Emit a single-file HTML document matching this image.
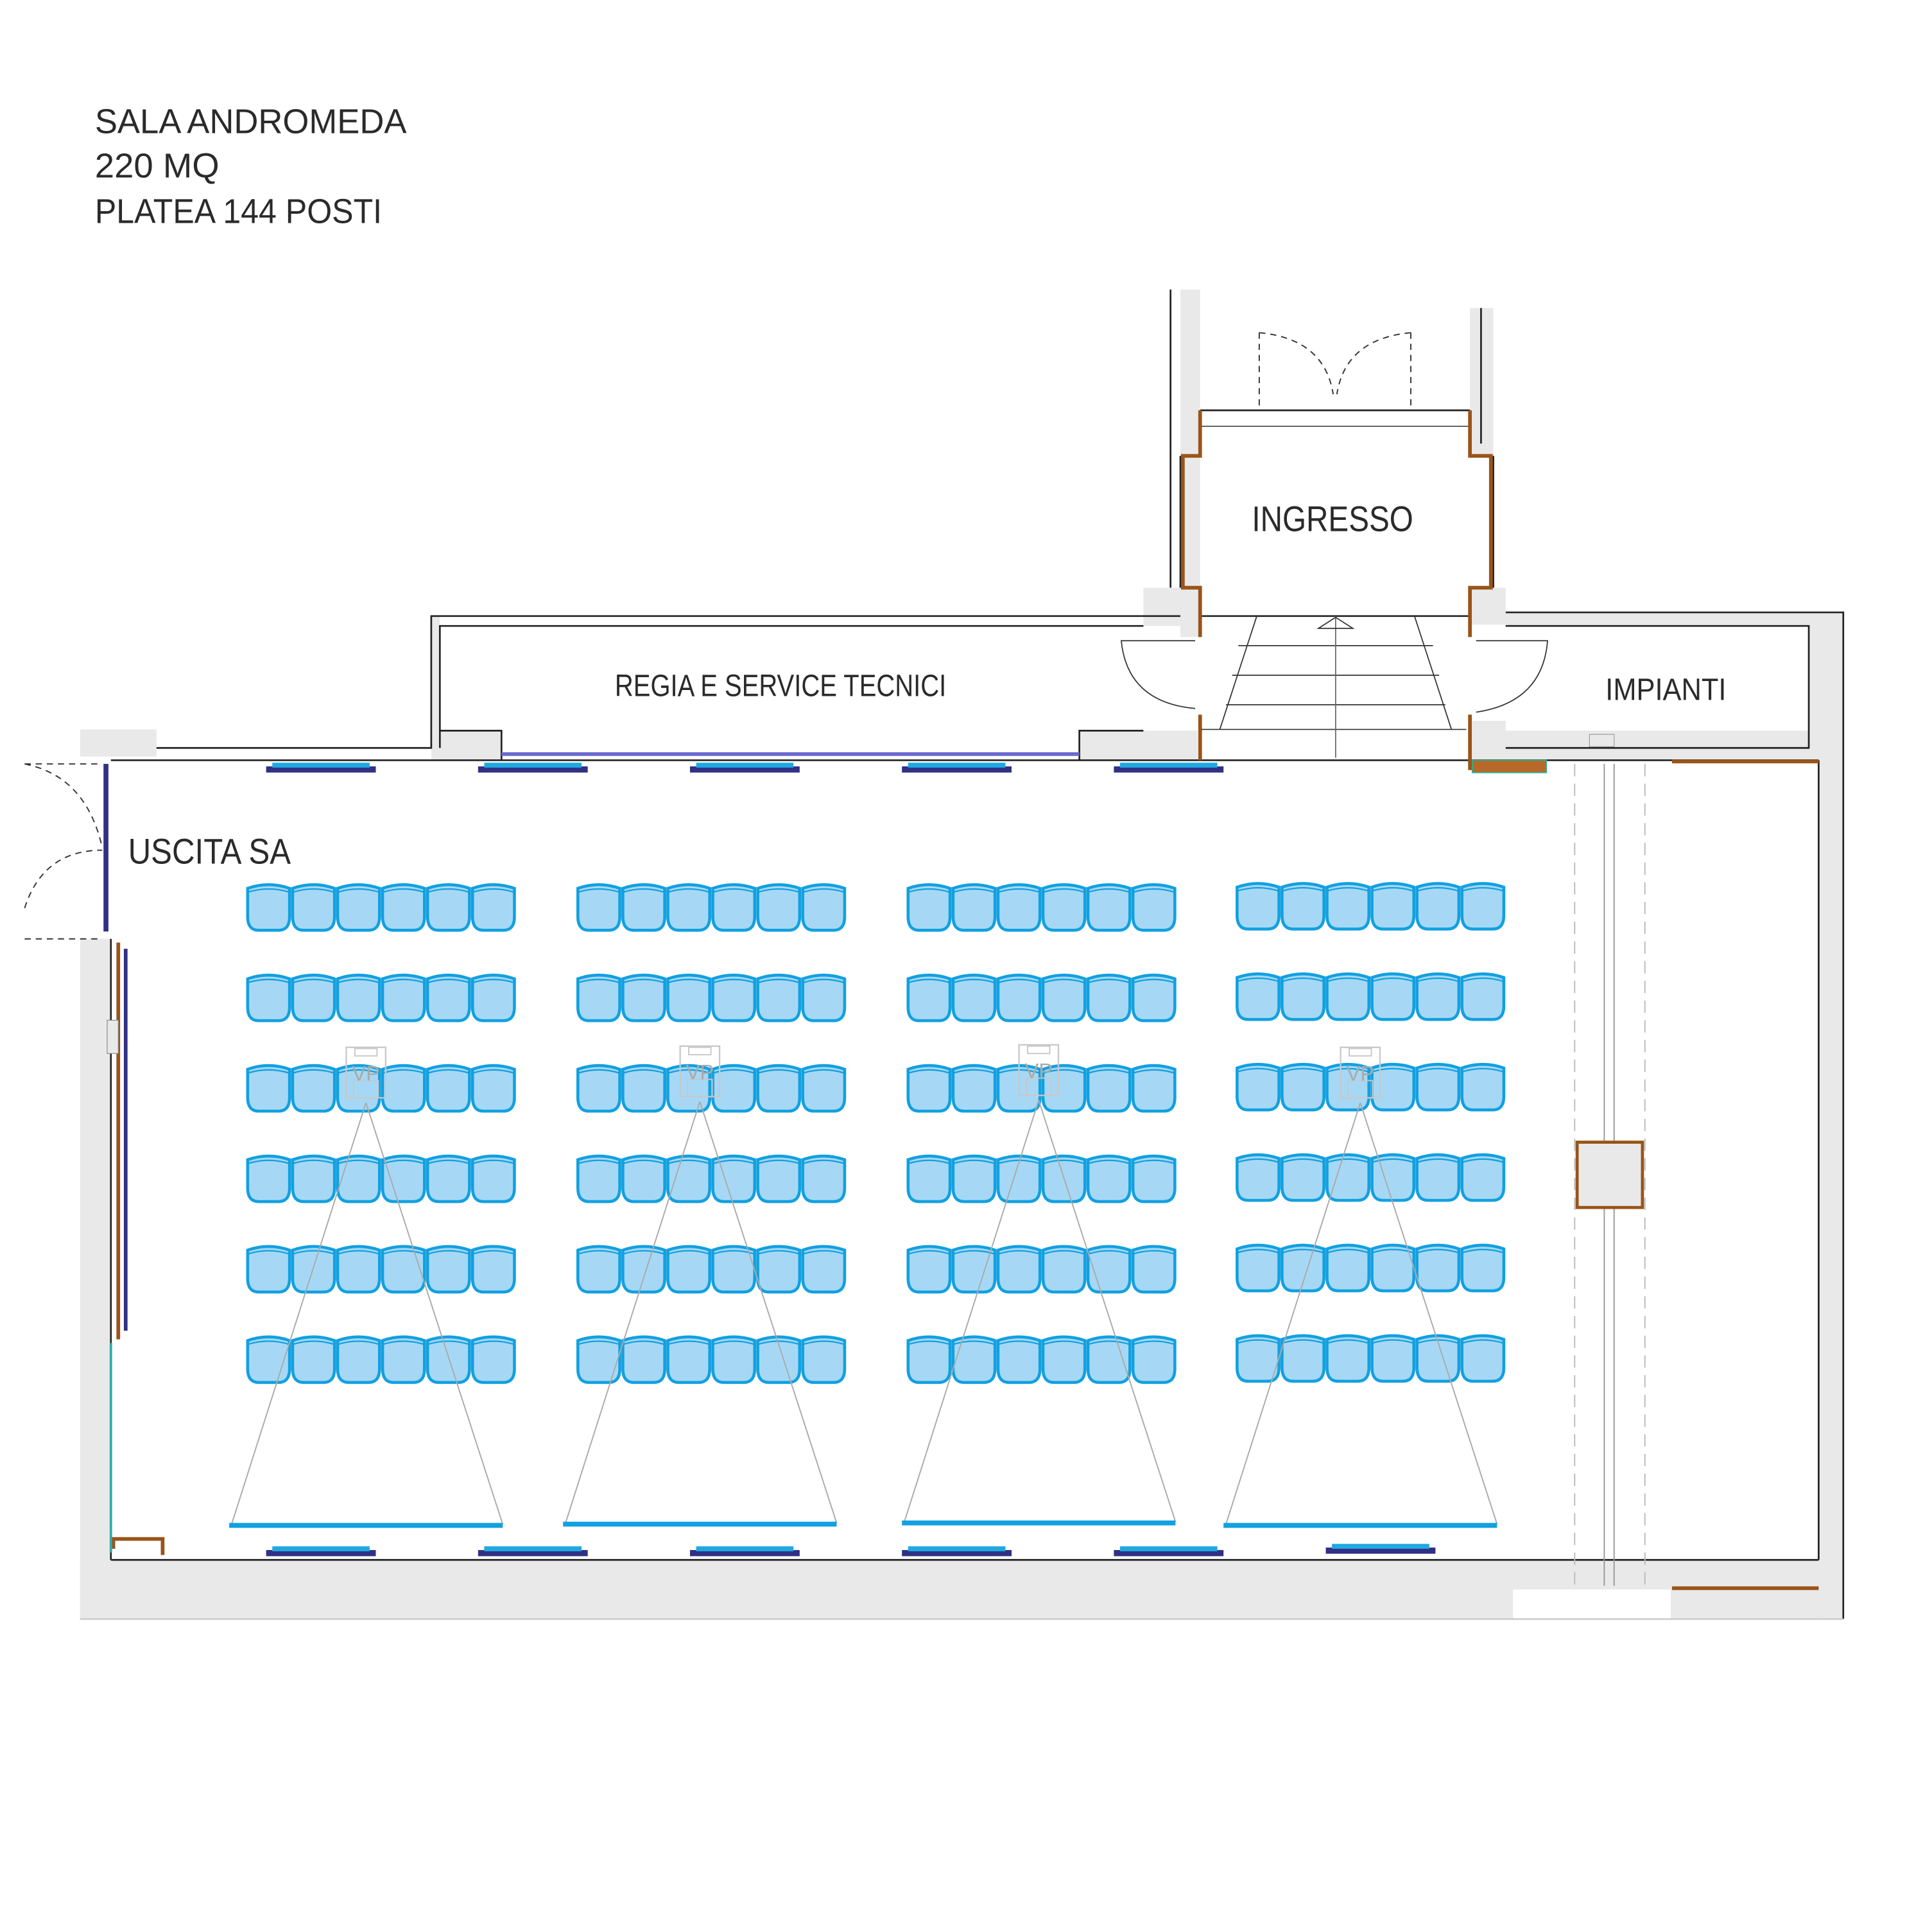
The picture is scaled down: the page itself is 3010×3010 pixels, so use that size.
<!DOCTYPE html>
<html><head><meta charset="utf-8"><style>
html,body{margin:0;padding:0;background:#fff}
svg{display:block}
text{font-family:"Liberation Sans",sans-serif;fill:#2a2a2a}
</style></head><body>
<svg width="3010" height="3010" viewBox="0 0 1568 1568" xmlns="http://www.w3.org/2000/svg">
<defs>
<g id="seat">
<path d="M1,5 Q18,-1 35,5 L35,28 Q35,39 26,39 L10,39 Q1,39 1,28 Z" fill="#a6d8f5" stroke="#12a0e0" stroke-width="2.4"/>
<path d="M1.5,8 Q18,3 34.5,8" fill="none" stroke="#12a0e0" stroke-width="1.2"/>
</g>
<g id="row">
<use href="#seat" x="0"/><use href="#seat" x="36.5"/><use href="#seat" x="73"/>
<use href="#seat" x="109.5"/><use href="#seat" x="146"/><use href="#seat" x="182.5"/>
</g>
<g id="block">
<use href="#row" y="0"/><use href="#row" y="73.4"/><use href="#row" y="146.8"/>
<use href="#row" y="220.2"/><use href="#row" y="293.6"/><use href="#row" y="367"/>
</g>
<g id="proj">
<line x1="0" y1="45" x2="-109" y2="387" stroke="#aaa" stroke-width="1"/>
<line x1="0" y1="45" x2="111" y2="387" stroke="#aaa" stroke-width="1"/>
<rect x="-16" y="0" width="32" height="41" fill="none" stroke="#c8c8c8" stroke-width="1.2"/>
<rect x="-9" y="1" width="18" height="6" fill="none" stroke="#c8c8c8" stroke-width="1"/>
<rect x="-10" y="27" width="20" height="14" fill="none" stroke="#c8c8c8" stroke-width="1"/>
<text x="0" y="27" font-size="17" text-anchor="middle" style="fill:#aaa">VP</text>
<line x1="-111" y1="388" x2="111" y2="388" stroke="#12a0e0" stroke-width="4"/>
</g>
<g id="win">
<rect x="0" y="3" width="89" height="5" fill="#303085"/>
<rect x="5" y="0" width="79" height="4" fill="#20a8e0"/>
</g>
</defs>

<!-- title -->
<text x="77" y="108" font-size="28" textLength="253" lengthAdjust="spacingAndGlyphs">SALA ANDROMEDA</text>
<text x="77" y="144" font-size="28" textLength="101" lengthAdjust="spacingAndGlyphs">220 MQ</text>
<text x="77" y="181" font-size="28" textLength="233" lengthAdjust="spacingAndGlyphs">PLATEA 144 POSTI</text>

<!-- main gray walls -->
<g fill="#e9e9e9">
<rect x="65" y="762" width="25" height="552"/>
<rect x="65" y="1266" width="1431" height="48"/>
<rect x="1476" y="497" width="20" height="817"/>
<rect x="1222" y="497" width="274" height="11"/>
<rect x="1468" y="508" width="8" height="109"/>
<rect x="1212" y="593" width="264" height="24"/>
<rect x="65" y="592" width="62" height="22"/>
<rect x="350" y="593" width="57" height="24"/>
<rect x="876" y="593" width="96" height="24"/>
<rect x="928" y="477" width="30" height="31"/>
<rect x="958" y="235" width="16" height="282"/>
<rect x="1193" y="250" width="19" height="120"/>
<rect x="1193" y="477" width="29" height="30"/>
<rect x="1193" y="585" width="29" height="32"/>
<rect x="350" y="500" width="7" height="107"/>
</g>
<rect x="1228" y="1290" width="128" height="24" fill="#fff"/>
<rect x="1290" y="596" width="20" height="10" fill="#e9e9e9" stroke="#999" stroke-width="0.6"/>

<!-- outlines -->
<g fill="none" stroke="#222" stroke-width="1.4">
<line x1="90" y1="617" x2="1476" y2="617"/>
<line x1="90" y1="1266" x2="1476" y2="1266"/>
<line x1="1476" y1="617" x2="1476" y2="1266"/>
<line x1="90" y1="762" x2="90" y2="1266"/>
<polyline points="127,607 350,607 350,500 958,500"/>
<polyline points="357,607 357,508 928,508"/>
<polyline points="407,617 407,593 357,593"/>
<polyline points="876,617 876,593 928,593"/>
<line x1="950" y1="235" x2="950" y2="477"/>
<line x1="958" y1="370" x2="958" y2="477"/>
<line x1="1212" y1="370" x2="1212" y2="477"/>
<line x1="1202" y1="250" x2="1202" y2="360"/>
<polyline points="1222,497 1496,497 1496,1314"/>
<polyline points="1222,508 1468,508 1468,607 1222,607"/>
<line x1="974" y1="500" x2="1193" y2="500"/>
<line x1="974" y1="333" x2="1193" y2="333"/>
<line x1="974" y1="346" x2="1193" y2="346" stroke-width="0.7"/>
<line x1="65" y1="1314" x2="1496" y2="1314" stroke="#ccc"/>
</g>
<!-- brown wall edges -->
<g fill="none" stroke="#9a5418" stroke-width="3">
<polyline points="974,333 974,370 960,370 960,477 974,477 974,517"/>
<polyline points="1193,333 1193,370 1210,370 1210,477 1193,477 1193,517"/>
<line x1="974" y1="580" x2="974" y2="617"/>
<line x1="1193" y1="580" x2="1193" y2="625"/>
<line x1="96" y1="765" x2="96" y2="1087"/>
<line x1="1357" y1="618" x2="1476" y2="618"/>
<line x1="1357" y1="1289" x2="1476" y2="1289"/>
<polyline points="92,1257 92,1249 132,1249 132,1262"/>
</g>
<line x1="102" y1="770" x2="102" y2="1080" stroke="#303085" stroke-width="3"/>
<rect x="87" y="828" width="9" height="27" fill="#e9e9e9" stroke="#888" stroke-width="0.6"/>

<!-- ingresso door dashed -->
<g fill="none" stroke="#333" stroke-width="1" stroke-dasharray="5,4">
<line x1="1022" y1="270" x2="1022" y2="333"/>
<line x1="1145" y1="270" x2="1145" y2="333"/>
<path d="M1022,270 Q1075,275 1082,320"/>
<path d="M1145,270 Q1092,275 1085,320"/>
</g>

<!-- stairs -->
<g fill="none" stroke="#333" stroke-width="0.9">
<line x1="1020" y1="500" x2="990" y2="592"/>
<line x1="1148" y1="500" x2="1178" y2="592"/>
<line x1="1005" y1="524" x2="1163" y2="524"/>
<line x1="1000" y1="548" x2="1168" y2="548"/>
<line x1="995" y1="572" x2="1173" y2="572"/>
<line x1="975" y1="592" x2="1190" y2="592"/>
<line x1="1084" y1="500" x2="1084" y2="615" stroke="#666"/>
<path d="M1070,510 L1084,501 L1098,510 Z"/>
<path d="M970,520 L910,520 Q915,570 970,575"/>
<path d="M1198,520 L1256,520 Q1252,570 1198,578"/>
</g>

<!-- exit doors -->
<g fill="none" stroke="#333" stroke-width="1" stroke-dasharray="5,4">
<line x1="20" y1="620" x2="83" y2="620"/>
<line x1="20" y1="762" x2="83" y2="762"/>
<path d="M20,620 Q70,630 83,688"/>
<path d="M20,737 Q35,690 83,690"/>
</g>
<line x1="86" y1="620" x2="86" y2="756" stroke="#303085" stroke-width="4"/>
<line x1="90" y1="1090" x2="90" y2="1260" stroke="#3aa" stroke-width="2"/>

<!-- right side corridor lines -->
<g fill="none" stroke="#999" stroke-width="1">
<line x1="1278" y1="620" x2="1278" y2="1287" stroke-dasharray="10,6" stroke="#bbb"/>
<line x1="1335" y1="620" x2="1335" y2="1287" stroke-dasharray="10,6" stroke="#bbb"/>
<line x1="1302" y1="620" x2="1302" y2="1287"/>
<line x1="1310" y1="620" x2="1310" y2="1287"/>
</g>
<rect x="1280" y="927" width="53" height="53" fill="#e9e9e9" stroke="#9a5418" stroke-width="2.5"/>

<!-- windows / radiators -->
<use href="#win" x="216" y="619"/><use href="#win" x="388" y="619"/><use href="#win" x="560" y="619"/>
<use href="#win" x="732" y="619"/><use href="#win" x="904" y="619"/>
<line x1="407" y1="612" x2="876" y2="612" stroke="#6a6ad0" stroke-width="3"/>
<use href="#win" x="216" y="1255"/><use href="#win" x="388" y="1255"/><use href="#win" x="560" y="1255"/>
<use href="#win" x="732" y="1255"/><use href="#win" x="904" y="1255"/><use href="#win" x="1076" y="1253"/>
<rect x="1195" y="617" width="60" height="10" fill="#b8692a" stroke="#3a8" stroke-width="1"/>

<!-- seats -->
<use href="#block" x="200" y="716"/>
<use href="#block" x="468" y="716"/>
<use href="#block" x="736" y="716"/>
<use href="#block" x="1003" y="715"/>

<!-- projectors -->
<use href="#proj" x="297" y="850"/>
<use href="#proj" x="568" y="849"/>
<use href="#proj" x="843" y="848"/>
<use href="#proj" x="1104" y="850"/>

<!-- labels -->
<text x="1016" y="431" font-size="29" textLength="131" lengthAdjust="spacingAndGlyphs">INGRESSO</text>
<text x="499" y="565" font-size="25" textLength="269" lengthAdjust="spacingAndGlyphs">REGIA E SERVICE TECNICI</text>
<text x="1303" y="568" font-size="25" textLength="98" lengthAdjust="spacingAndGlyphs">IMPIANTI</text>
<text x="104" y="701" font-size="29" textLength="132" lengthAdjust="spacingAndGlyphs">USCITA SA</text>
</svg>
</body></html>
